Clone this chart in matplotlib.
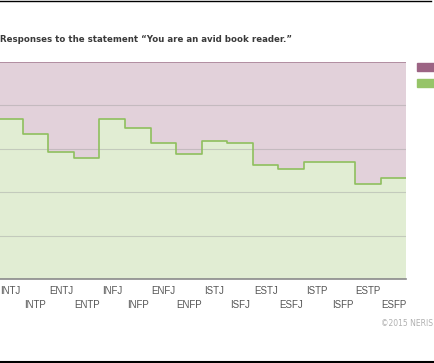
import numpy as np
import matplotlib.pyplot as plt

# personality types, left to right
types = ["INTJ", "INTP", "ENTJ", "ENTP", "INFJ", "INFP", "ENFJ", "ENFP",
         "ISTJ", "ISFJ", "ESTJ", "ESFJ", "ISTP", "ISFP", "ESTP", "ESFP"]

# share agreeing with the statement (%)
agree = [73.6, 66.8, 58.7, 55.6, 73.6, 69.7, 62.8, 57.5,
         63.6, 62.5, 52.5, 50.5, 53.9, 53.9, 43.6, 46.4]
disagree = [100 - a for a in agree]

title = "Responses to the statement \u201cYou are an avid book reader.\u201d"

fig = plt.figure(figsize=(4.35, 3.63), dpi=100)
fig.patch.set_facecolor("white")

ax = fig.add_axes([-0.0067, 0.2314, 0.9407, 0.5978])

n = len(types)
edges = np.arange(n + 1)
green_top = np.append(agree, agree[-1])
total = green_top + np.append(disagree, disagree[-1])

ax.fill_between(edges, 0, green_top, step="post", color="#e1edd3", lw=0)
ax.fill_between(edges, green_top, total, step="post", color="#e2d1da", lw=0)

for y in [20, 40, 60, 80]:
    ax.axhline(y, color="#a0a0a0", lw=0.8, alpha=0.45, zorder=2)

ax.step(edges, green_top, where="post", color="#8fbf5e", lw=1.2, zorder=3)
ax.step(edges, total, where="post", color="#a98297", lw=1.2, zorder=3)

ax.set_xlim(0, n)
ax.set_ylim(0, 100)
for s in ["top", "right", "left"]:
    ax.spines[s].set_visible(False)
ax.spines["bottom"].set_color("#8a8a8a")
ax.spines["bottom"].set_linewidth(1.2)
ax.set_yticks([])
ax.set_xticks([])

# alternating two-row category labels
for i, t in enumerate(types):
    yoff = -0.055 if i % 2 == 0 else -0.12
    ax.text(i + 0.5, yoff, t, transform=ax.get_xaxis_transform(),
            ha="center", va="center", fontsize=7, color="#555555",
            family="Liberation Sans")

fig.text(0.0, 1 - 40 / 363, title, ha="left", va="center", fontsize=6.2,
         fontweight="bold", color="#3a3a3a", family="DejaVu Sans")

# legend swatches (cropped at the right edge)
fig.patches.append(plt.Rectangle((417 / 435, 1 - 71 / 363), 20 / 435, 8.5 / 363,
                                 transform=fig.transFigure, color="#9c6484"))
fig.patches.append(plt.Rectangle((417 / 435, 1 - 87 / 363), 20 / 435, 8.5 / 363,
                                 transform=fig.transFigure, color="#96c468"))

fig.text(433 / 435, 1 - 323 / 363, "\u00a92015 NERIS", ha="right", va="center",
         fontsize=5.5, color="#b0b0b0", family="DejaVu Sans")

# black frame lines top and bottom
fig.add_artist(plt.Line2D([0, 0.99], [1 - 0.5 / 363, 1 - 0.5 / 363],
                          transform=fig.transFigure, color="black", lw=1.0))
fig.add_artist(plt.Line2D([0, 1], [1.5 / 363, 1.5 / 363],
                          transform=fig.transFigure, color="black", lw=1.5))

fig.savefig("out.png", dpi=100)
